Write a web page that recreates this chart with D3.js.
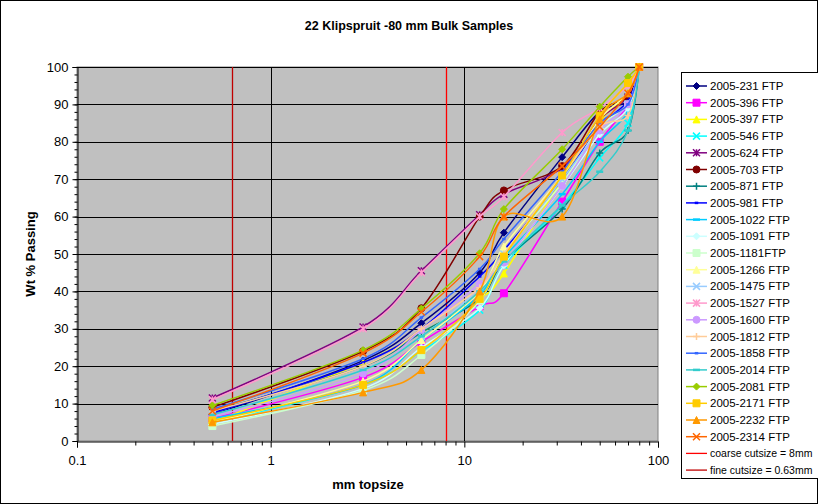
<!DOCTYPE html>
<html>
<head>
  <meta charset="utf-8">
  <title>22 Klipspruit -80 mm Bulk Samples</title>
  <script src="https://d3js.org/d3.v7.min.js"></script>
  <style>
    body { margin: 0; background: #fff; }
    text { font-family: "Liberation Sans", Arial, sans-serif; fill: #000; }
    .title, .axis-title { font-weight: bold; }
  </style>
</head>
<body>
  <svg width="818" height="504"></svg>
  <script>
    // sieve sizes (mm) shared by every sample
    const sizes = [0.5, 3, 6, 12, 16, 32, 50, 70, 80];

    const names = [
      "2005-231 FTP", "2005-396 FTP", "2005-397 FTP", "2005-546 FTP", "2005-624 FTP",
      "2005-703 FTP", "2005-871 FTP", "2005-981 FTP", "2005-1022 FTP", "2005-1091 FTP",
      "2005-1181FTP", "2005-1266 FTP", "2005-1475 FTP", "2005-1527 FTP", "2005-1600 FTP",
      "2005-1812 FTP", "2005-1858 FTP", "2005-2014 FTP", "2005-2081 FTP", "2005-2171 FTP",
      "2005-2232 FTP", "2005-2314 FTP"
    ];

    // cumulative wt % passing, one row per sample
    const passing = [
      [7, 21.5, 31.5, 45, 55.7, 75.9, 88, 91, 100],
      [6, 17, 26.5, 36, 39.5, 64, 80, 90, 100],
      [5, 21, 29, 38, 44.8, 70, 85.4, 93, 100],
      [5, 15, 24, 35, 47, 63, 75.7, 85, 100],
      [11.5, 30.5, 45.5, 60.5, 66, 73, 86, 92, 100],
      [9, 24, 35.5, 60, 67, 73.5, 88, 92, 100],
      [8, 20, 29, 38, 48, 62, 77, 83, 100],
      [7.5, 21, 30, 44, 51, 70, 84, 91, 100],
      [6, 15, 27, 39, 49, 66, 80, 88, 100],
      [4.5, 14, 25, 35.5, 47, 68, 82, 89, 100],
      [4, 13.5, 23, 37.5, 50, 69, 84, 90, 100],
      [5, 16, 27, 40, 52, 71, 86, 93, 100],
      [7, 19, 28, 41, 50, 70, 83, 90, 100],
      [11, 30, 45, 60, 65.3, 82.5, 89, 95, 100],
      [6.5, 18, 29.7, 42, 47.7, 68.2, 83, 90, 100],
      [8, 20, 30, 41, 50, 71, 84, 87, 100],
      [8.5, 22, 33, 46, 54, 72, 85, 90, 100],
      [7, 19, 28, 40, 48, 63, 72, 83, 100],
      [9.5, 24.3, 35.4, 50.2, 62, 78, 89.4, 97.4, 100],
      [5.5, 15, 24.3, 38, 49.3, 71, 87, 95.7, 100],
      [5, 13, 19, 40, 60, 60, 86, 93, 100],
      [8, 23.5, 34.5, 49.3, 60, 73.5, 84, 93, 100]
    ];

    const colors = [
      "#000080", "#FF00FF", "#FFFF00", "#00FFFF", "#800080", "#800000", "#008080", "#0000FF",
      "#00CCFF", "#CCFFFF", "#CCFFCC", "#FFFF99", "#99CCFF", "#FF99CC", "#CC99FF", "#FFCC99",
      "#3366FF", "#33CCCC", "#99CC00", "#FFCC00", "#FF9900", "#FF6600"
    ];

    const markerCycle = ["diamond", "square", "triangle", "x", "star", "circle", "plus", "shortdash", "dash"];

    const cutsizes = [
      {name: "coarse cutsize = 8mm", size: 8, color: "#FF0000"},
      {name: "fine cutsize = 0.63mm", size: 0.63, color: "#C00000"}
    ];

    const xTicks = [0.1, 1, 10, 100];
    const yTicks = d3.range(0, 101, 10);

    const svg = d3.select("svg");

    // outer chart border
    svg.append("rect")
      .attr("x", 0.5).attr("y", 0.5).attr("width", 817).attr("height", 503)
      .attr("fill", "#fff").attr("stroke", "#000");

    const x = d3.scaleLog().domain([0.1, 100]).range([77, 658]);
    const y = d3.scaleLinear().domain([0, 100]).range([441, 67]);

    // plot area
    svg.append("rect")
      .attr("x", 77).attr("y", 67).attr("width", 581).attr("height", 374)
      .attr("fill", "#C0C0C0").attr("stroke", "#808080");

    // grid
    svg.append("g").selectAll("line").data(yTicks.slice(1)).join("line")
      .attr("x1", 77).attr("x2", 658)
      .attr("y1", d => Math.round(y(d)) + 0.5).attr("y2", d => Math.round(y(d)) + 0.5)
      .attr("stroke", "#000");
    svg.append("g").selectAll("line").data([1, 10]).join("line")
      .attr("x1", d => Math.round(x(d)) + 0.5).attr("x2", d => Math.round(x(d)) + 0.5)
      .attr("y1", 67).attr("y2", 441)
      .attr("stroke", "#000");

    // cutsize lines
    svg.append("g").selectAll("line").data(cutsizes).join("line")
      .attr("x1", d => Math.round(x(d.size)) + 0.5).attr("x2", d => Math.round(x(d.size)) + 0.5)
      .attr("y1", 67).attr("y2", 441)
      .attr("stroke", d => d.color).attr("stroke-width", 1.3);

    // axes
    const yMinor = d3.range(0, 101, 2);
    svg.append("g").attr("transform", "translate(77.5,0)")
      .call(d3.axisLeft(y).tickValues(yMinor).tickSize(3).tickFormat(""))
      .call(g => g.select(".domain").remove());
    const yAxis = svg.append("g").attr("transform", "translate(77.5,0)")
      .call(d3.axisLeft(y).tickValues(yTicks).tickSize(5).tickPadding(4));
    yAxis.selectAll("text").style("font-size", "13px").attr("font-family", null);
    yAxis.select(".domain").attr("stroke", "#000");

    const xMinor = [];
    [0.1, 1, 10].forEach(d => { for (let k = 2; k <= 9; k++) xMinor.push(d * k); });
    svg.append("g").attr("transform", "translate(0,441.5)")
      .call(d3.axisBottom(x).tickValues(xMinor).tickSize(4).tickFormat(""))
      .call(g => g.select(".domain").remove());
    const xAxis = svg.append("g").attr("transform", "translate(0,441.5)")
      .call(d3.axisBottom(x).tickValues(xTicks).tickSize(6).tickPadding(8)
        .tickFormat(d => String(d)));
    xAxis.selectAll("text").style("font-size", "13px").attr("font-family", null);

    // series lines
    const line = d3.line()
      .x(d => x(d[0])).y(d => y(d[1]))
      .curve(d3.curveCardinal.tension(0));

    const series = names.map((n, i) => ({
      name: n,
      color: colors[i],
      marker: markerCycle[i % markerCycle.length],
      points: sizes.map((s, j) => [s, passing[i][j]])
    }));

    function markerPath(type, r) {
      switch (type) {
        case "diamond": return `M0,${-r}L${r},0L0,${r}L${-r},0Z`;
        case "square": return `M${-r},${-r}H${r}V${r}H${-r}Z`;
        case "triangle": return `M0,${-r}L${r},${r}L${-r},${r}Z`;
        case "x": return `M${-r},${-r}L${r},${r}M${r},${-r}L${-r},${r}`;
        case "star": return `M${-r},${-r}L${r},${r}M${r},${-r}L${-r},${r}M0,${-r}V${r}`;
        case "plus": return `M${-r},0H${r}M0,${-r}V${r}`;
        case "shortdash": return `M${-r * 0.5},0H${r * 0.5}`;
        case "dash": return `M${-r},0H${r}`;
      }
      return "";
    }

    function drawMarker(g, s, cx, cy) {
      const r = 3.5;
      if (s.marker === "circle") {
        g.append("circle").attr("cx", cx).attr("cy", cy).attr("r", r)
          .attr("fill", s.color).attr("stroke", s.color);
      } else {
        const filled = ["diamond", "square", "triangle"].includes(s.marker);
        g.append("path")
          .attr("transform", `translate(${cx},${cy})`)
          .attr("d", markerPath(s.marker, r))
          .attr("fill", filled ? s.color : "none")
          .attr("stroke", s.color)
          .attr("stroke-width", filled ? 1 : (s.marker.includes("dash") ? 2.5 : 1.5));
      }
    }

    const plot = svg.append("g");
    series.forEach(s => {
      const g = plot.append("g");
      g.append("path").attr("d", line(s.points))
        .attr("fill", "none").attr("stroke", s.color).attr("stroke-width", 1.5);
      s.points.forEach(p => drawMarker(g, s, x(p[0]), y(p[1])));
    });

    // title and axis titles
    svg.append("text").attr("class", "title")
      .attr("x", 409).attr("y", 30).attr("text-anchor", "middle")
      .style("font-size", "12.5px")
      .text("22 Klipspruit -80 mm Bulk Samples");
    svg.append("text").attr("class", "axis-title")
      .attr("transform", "translate(35,254) rotate(-90)").attr("text-anchor", "middle")
      .style("font-size", "13px")
      .text("Wt % Passing");
    svg.append("text").attr("class", "axis-title")
      .attr("x", 368).attr("y", 489).attr("text-anchor", "middle")
      .style("font-size", "13px")
      .text("mm topsize");

    // legend
    const legend = svg.append("g");
    legend.append("rect")
      .attr("x", 681.5).attr("y", 72.5).attr("width", 140).attr("height", 406)
      .attr("fill", "#fff").attr("stroke", "#000");
    const step = 16.7;
    series.forEach((s, i) => {
      const ly = 86 + i * step;
      const g = legend.append("g");
      g.append("line").attr("x1", 686).attr("x2", 707).attr("y1", ly).attr("y2", ly)
        .attr("stroke", s.color).attr("stroke-width", 1.5);
      drawMarker(g, s, 696.5, ly);
      g.append("text").attr("x", 710).attr("y", ly + 4)
        .style("font-size", "11.5px").text(s.name);
    });
    cutsizes.forEach((c, k) => {
      const ly = 86 + (series.length + k) * step;
      legend.append("line").attr("x1", 686).attr("x2", 707).attr("y1", ly).attr("y2", ly)
        .attr("stroke", c.color).attr("stroke-width", 1.3);
      legend.append("text").attr("x", 710).attr("y", ly + 4)
        .style("font-size", "10.5px").text(c.name);
    });
  </script>
</body>
</html>
